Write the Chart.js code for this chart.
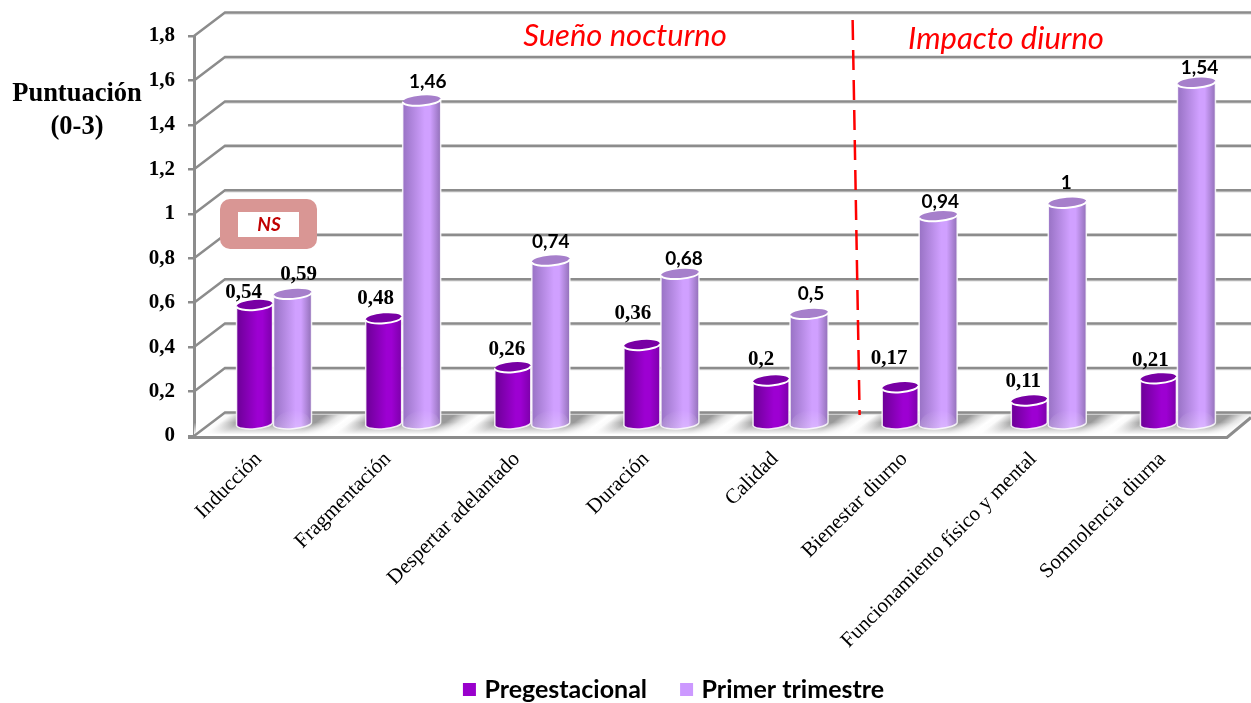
<!DOCTYPE html>
<html lang="es">
<head>
<meta charset="UTF-8">
<title>Puntuación por trimestre</title>
<style>
    html, body { margin: 0; padding: 0; background: #fff; }
    canvas { display: block; }
</style>
</head>
<body>
<canvas id="sleepChart" width="1251" height="703"></canvas>

<script src="https://cdn.jsdelivr.net/npm/chart.js@4"></script>
<script>
    const categories = ['Inducción', 'Fragmentación', 'Despertar adelantado', 'Duración', 'Calidad',
        'Bienestar diurno', 'Funcionamiento físico y mental', 'Somnolencia diurna'];
    const pregestacional = [0.54, 0.48, 0.26, 0.36, 0.2, 0.17, 0.11, 0.21];
    const primerTrimestre = [0.59, 1.46, 0.74, 0.68, 0.5, 0.94, 1, 1.54];
    const yTickLabels = ['0', '0,2', '0,4', '0,6', '0,8', '1', '1,2', '1,4', '1,6', '1,8'];

    // value labels are placed by hand around each cylinder top
    const darkLabelShiftX = [-11, -8, -6, -9, -10, -11, -6, -8];
    const darkLabelShiftY = [-12, -20, -18, -31, -21, -29, -19, -18];
    const lightLabelShiftX = [6, 6, 0, 4, 2, 2, -1, 3];
    const lightLabelShiftY = [-19, -19, -19, -15, -20, -14, -20, -15];

    const GRID = '#8c8c8c';
    const SERIF = '"Liberation Serif"';
    const SANS = 'Lato';
    const DEPTH_X = 31, DEPTH_Y = 23.5;   // offset of the back wall
    const BAR_X = 15, BAR_Y = 11;         // bars stand halfway into the floor

    function line(ctx, pts, color, width) {
        ctx.beginPath();
        pts.forEach((p, i) => i ? ctx.lineTo(p[0], p[1]) : ctx.moveTo(p[0], p[1]));
        ctx.strokeStyle = color;
        ctx.lineWidth = width;
        ctx.stroke();
    }

    function drawFloor(chart) {
        const { ctx, chartArea: a, scales: { x, y } } = chart;
        const front = y.getPixelForValue(0) - 2, back = front - DEPTH_Y + 2;
        const slant = (front - back) * DEPTH_X / DEPTH_Y;
        const w = x.getPixelForValue(1) - x.getPixelForValue(0);

        ctx.save();
        // grey streaks run along the depth direction, white halfway between groups
        const nx = 0.604, ny = 0.797;
        categories.forEach((c, i) => {
            const x0 = x.getPixelForValue(i) + BAR_X - w / 2 - 12;
            const g = ctx.createLinearGradient(x0, front, x0 + nx * nx * w, front + nx * ny * w);
            g.addColorStop(0, '#ffffff');
            g.addColorStop(0.06, '#fafafa');
            g.addColorStop(0.2, '#9a9a9a');
            g.addColorStop(0.8, '#9a9a9a');
            g.addColorStop(0.91, '#e4e4e4');
            g.addColorStop(1, '#ffffff');
            ctx.beginPath();
            ctx.moveTo(x0, front);
            ctx.lineTo(x0 + slant, back);
            ctx.lineTo(x0 + slant + w, back);
            ctx.lineTo(x0 + w, front);
            ctx.closePath();
            ctx.fillStyle = g;
            ctx.fill();
        });
        const fade = ctx.createLinearGradient(0, back + 10, 0, front);
        fade.addColorStop(0, 'rgba(255,255,255,0)');
        fade.addColorStop(1, 'rgba(255,255,255,0.95)');
        ctx.fillStyle = fade;
        ctx.fillRect(a.left, back, chart.width - a.left, DEPTH_Y);
        ctx.restore();
    }

    function drawWalls(chart) {
        const { ctx, chartArea: a, scales: { y } } = chart;
        y.ticks.forEach(t => {
            const py = y.getPixelForValue(t.value);
            line(ctx, [[a.left + DEPTH_X, py - DEPTH_Y + 1.5], [chart.width, py - DEPTH_Y + 1.5]], '#dcdcdc', 1.5);
            line(ctx, [[a.left, py], [a.left + DEPTH_X, py - DEPTH_Y], [chart.width, py - DEPTH_Y]], GRID, 2.5);
        });
        const y0 = y.getPixelForValue(0) + 1.5;
        line(ctx, [[a.left - 6, y0], [a.right, y0], [chart.width, y0 - 20]], GRID, 3);
    }

    function drawCylinder(ctx, left, right, top, base, look) {
        const rx = (right - left) / 2, ry = 5, tilt = -0.08;
        const cx = (left + right) / 2;
        const rise = Math.sin(tilt) * rx;

        const grad = ctx.createLinearGradient(left, 0, right, 0);
        grad.addColorStop(0, look.left);
        grad.addColorStop(0.58, look.mid);
        grad.addColorStop(0.72, look.mid);
        grad.addColorStop(1, look.right);

        const body = new Path2D();
        body.moveTo(left, top - rise);
        body.lineTo(left, base - rise);
        body.ellipse(cx, base, rx, ry, tilt, Math.PI, 0, true);
        body.lineTo(right, top + rise);
        body.closePath();
        ctx.fillStyle = grad;
        ctx.fill(body);
        ctx.strokeStyle = 'rgba(255,255,255,0.85)';
        ctx.lineWidth = 1.5;
        ctx.stroke(body);

        // faint reflection from the floor, kept inside the body
        if (look.glow) {
            ctx.save();
            ctx.clip(body);
            const glow = ctx.createLinearGradient(0, base - 14, 0, base + ry);
            glow.addColorStop(0, 'rgba(255,255,255,0)');
            glow.addColorStop(1, 'rgba(255,255,255,0.22)');
            ctx.beginPath();
            ctx.ellipse(cx, base, rx - 1, ry + 8, tilt, 0, Math.PI * 2);
            ctx.fillStyle = glow;
            ctx.fill();
            ctx.restore();
        }

        ctx.beginPath();
        ctx.ellipse(cx, top, rx, ry, tilt, 0, Math.PI * 2);
        ctx.fillStyle = look.cap;
        ctx.fill();
        ctx.beginPath();
        ctx.ellipse(cx, top, rx, ry, tilt, Math.PI, 0, true);
        ctx.strokeStyle = '#ffffff';
        ctx.lineWidth = 2;
        ctx.stroke();
    }

    const looks = [
        { left: '#6c0096', mid: '#9d00d2', right: '#7c00aa', cap: '#7800a4' },
        { left: '#9872c4', mid: '#d0a0ff', right: '#9270b8', cap: '#a67fcb', glow: true }
    ];

    function drawNotes(chart) {
        const { ctx, scales: { x, y } } = chart;

        // divider between the two groups of items
        const mid = x.getPixelForValue(4.5);
        ctx.save();
        ctx.setLineDash([20, 10]);
        line(ctx, [[mid + 13, 20], [mid + 20, y.getPixelForValue(0) - 21]], '#ff0000', 2.5);
        ctx.restore();

        ctx.textBaseline = 'middle';
        ctx.textAlign = 'center';
        ctx.fillStyle = '#ff0000';
        ctx.font = 'italic 31px ' + SANS;
        ctx.fillText('Sueño nocturno', 625, 36);
        ctx.fillText('Impacto diurno', 1006, 39);

        ctx.fillStyle = '#000';
        ctx.font = 'bold 26.5px ' + SERIF;
        ctx.fillText('Puntuación', 77, 94);
        ctx.fillText('(0-3)', 77, 127);

        // NS tag over the first group
        ctx.fillStyle = '#d99694';
        ctx.beginPath();
        ctx.roundRect(220, 199, 97, 50, 10);
        ctx.fill();
        ctx.fillStyle = '#fff';
        ctx.fillRect(238, 212, 61, 25);
        ctx.fillStyle = '#c00000';
        ctx.font = 'italic bold 19px ' + SANS;
        ctx.fillText('NS', 269, 225);
    }

    function drawValues(chart) {
        const { ctx } = chart;
        ctx.fillStyle = '#000';
        ctx.textAlign = 'center';
        ctx.textBaseline = 'middle';
        chart.getDatasetMeta(0).data.forEach((bar, i) => {
            ctx.font = 'bold 21px ' + SERIF;
            ctx.fillText(String(pregestacional[i]).replace('.', ','),
                bar.x + BAR_X + darkLabelShiftX[i], bar.y - BAR_Y + darkLabelShiftY[i]);
        });
        chart.getDatasetMeta(1).data.forEach((bar, i) => {
            ctx.font = i === 0 ? 'bold 21px ' + SERIF : 'bold 19px ' + SANS;
            ctx.fillText(String(primerTrimestre[i]).replace('.', ','),
                bar.x + BAR_X + lightLabelShiftX[i], bar.y - BAR_Y + lightLabelShiftY[i]);
        });
    }

    const cylinders = {
        id: 'cylinders',
        afterLayout(chart) {
            // legend sits lower than its row padding would leave it
            const legend = chart.legend;
            const h = legend.bottom - legend.top;
            legend.top = 677 - legend.options.labels.padding;
            legend.bottom = legend.top + h;
            // long rotated labels run past the axis box, don't let them get cut
            chart.scales.x.bottom = chart.height;
        },
        beforeDatasetsDraw(chart) {
            const { ctx } = chart;
            drawFloor(chart);
            drawWalls(chart);
            [0, 1].forEach(d => {
                chart.getDatasetMeta(d).data.forEach(bar => {
                    const inset = d === 0 ? 1 : 0;
                    drawCylinder(ctx, bar.x + BAR_X - bar.width / 2 + inset, bar.x + BAR_X + bar.width / 2 - inset,
                        bar.y - BAR_Y, bar.base - BAR_Y, looks[d]);
                });
            });
        },
        // the cylinders replace the flat bars
        beforeDatasetDraw() {
            return false;
        },
        afterDatasetsDraw(chart) {
            drawNotes(chart);
            drawValues(chart);
        }
    };

    new Chart(document.getElementById('sleepChart'), {
        type: 'bar',
        data: {
            labels: categories,
            datasets: [
                { label: 'Pregestacional', data: pregestacional, backgroundColor: '#9900cc', barThickness: 38 },
                { label: 'Primer trimestre', data: primerTrimestre, backgroundColor: '#cc99ff', barThickness: 38 }
            ]
        },
        plugins: [cylinders],
        options: {
            responsive: false,
            animation: false,
            layout: { padding: { left: 124, right: 24, top: 36, bottom: 0 } },
            plugins: {
                tooltip: { enabled: false },
                legend: {
                    position: 'bottom',
                    labels: {
                        boxWidth: 5,
                        boxHeight: 5,
                        padding: 37,
                        color: '#000',
                        font: { family: SANS, size: 25, weight: 'bold' },
                        // thick outline in the fill colour brings the swatch closer to its text
                        generateLabels: chart => Chart.defaults.plugins.legend.labels.generateLabels(chart)
                            .map(item => ({ ...item, strokeStyle: item.fillStyle, lineWidth: 8 }))
                    }
                }
            },
            scales: {
                x: {
                    grid: { display: false },
                    border: { display: false },
                    afterFit: s => { s.height = 703 - 436 - s.chart.legend.height; },
                    ticks: {
                        autoSkip: false,
                        minRotation: 45,
                        maxRotation: 45,
                        padding: 3,
                        color: '#000',
                        font: { family: SERIF, size: 21 }
                    }
                },
                y: {
                    min: 0,
                    max: 1.8,
                    afterFit: s => { s.width = 70; },
                    grid: { drawOnChartArea: false, color: GRID, lineWidth: 2.5, tickLength: 6 },
                    border: { color: GRID, width: 3 },
                    ticks: {
                        stepSize: 0.2,
                        padding: 13,
                        color: '#000',
                        font: { family: SERIF, size: 21, weight: 'bold' },
                        callback: (v, i) => yTickLabels[i]
                    }
                }
            }
        }
    });
</script>
</body>
</html>
